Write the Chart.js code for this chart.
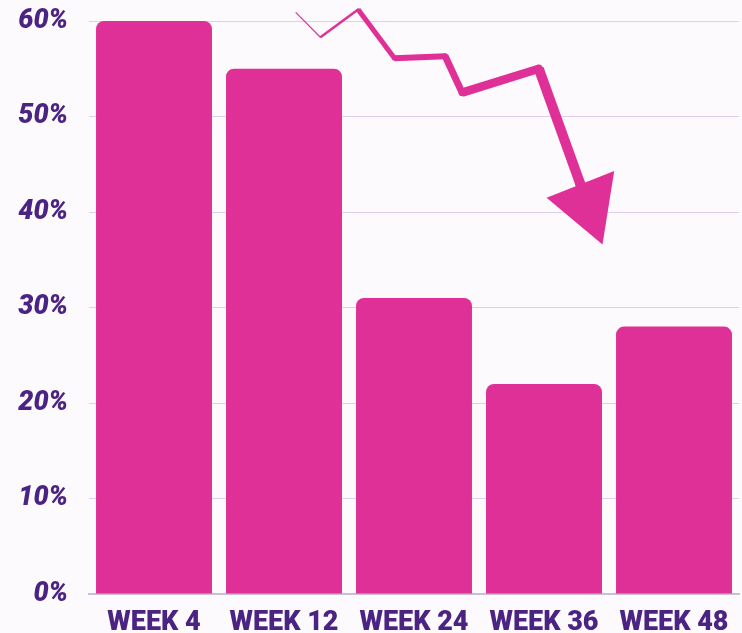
<!DOCTYPE html>
<html>
<head>
<meta charset="utf-8">
<script src="https://cdn.jsdelivr.net/npm/chart.js@4.4.0/dist/chart.umd.min.js"></script>
<style>
  html, body { margin: 0; padding: 0; background: #fcfafc; }
  #wrap { width: 742px; height: 633px; position: relative; }
</style>
</head>
<body>
<div id="wrap"><canvas id="retentionChart"></canvas></div>
<script>
// Chart data
const weeks = ['WEEK 4', 'WEEK 12', 'WEEK 24', 'WEEK 36', 'WEEK 48'];
const percents = [60, 55, 31, 22, 28];
const yTicks = [0, 10, 20, 30, 40, 50, 60];

// Decorative down arrow, in (category index, percent) units
const arrowPath = [[1.09, 60.9], [1.28, 58.3], [1.57, 61.2], [1.85, 56.1], [2.24, 56.3], [2.37, 52.5], [2.96, 55.0], [3.28, 42.9]];
const arrowWidths = [1.2, 2.4, 5, 6, 7, 8.5, 10];
const arrowHead = [[3.02, 41.5], [3.54, 44.3], [3.45, 36.6]];

const pink = '#df3097';
const purple = '#4b2383';
const labelFont = "Roboto, 'DejaVu Sans', sans-serif";

// Page background
const bgPlugin = {
  id: 'bg',
  beforeDraw(chart) {
    const c = chart.ctx;
    c.save();
    c.fillStyle = '#fcfafc';
    c.fillRect(0, 0, chart.width, chart.height);
    c.restore();
  }
};

// Zigzag arrow over the bars
const arrowPlugin = {
  id: 'arrow',
  afterDatasetsDraw(chart) {
    const c = chart.ctx;
    const xs = chart.scales.x, ys = chart.scales.y;
    const pt = p => [xs.getPixelForValue(p[0]), ys.getPixelForValue(p[1])];
    c.save();
    c.strokeStyle = pink;
    c.fillStyle = pink;
    c.lineJoin = 'miter';
    c.lineCap = 'butt';
    for (let i = 0; i < arrowPath.length - 1; i++) {
      const a = pt(arrowPath[i]), b = pt(arrowPath[i + 1]);
      c.lineWidth = arrowWidths[i];
      c.beginPath();
      c.moveTo(a[0], a[1]);
      c.lineTo(b[0], b[1]);
      c.stroke();
      // fill the joint
      c.beginPath();
      c.arc(b[0], b[1], arrowWidths[i] / 2, 0, Math.PI * 2);
      c.fill();
    }
    c.beginPath();
    arrowHead.forEach((p, i) => {
      const q = pt(p);
      if (i === 0) c.moveTo(q[0], q[1]); else c.lineTo(q[0], q[1]);
    });
    c.closePath();
    c.fill();
    c.restore();
  }
};

const ctx = document.getElementById('retentionChart');
new Chart(ctx, {
  type: 'bar',
  data: {
    labels: weeks,
    datasets: [{
      data: percents,
      backgroundColor: pink,
      borderRadius: 8,
      borderSkipped: 'start',
      categoryPercentage: 0.892,
      barPercentage: 1.0
    }]
  },
  options: {
    responsive: true,
    maintainAspectRatio: false,
    animation: false,
    layout: { padding: { top: 21, right: 3, bottom: 0, left: 0 } },
    scales: {
      y: {
        min: 0,
        max: 60,
        afterBuildTicks: axis => { axis.ticks = yTicks.map(v => ({ value: v })); },
        afterFit: axis => {
          axis.width = 89;
          axis.paddingTop = 0;
          axis.paddingBottom = 0;
        },
        grid: { color: '#ddd0ea', drawTicks: false },
        border: { display: false },
        ticks: {
          padding: 21,
          color: purple,
          font: { family: labelFont, size: 27, weight: '900', style: 'italic' },
          callback: v => v + '%'
        }
      },
      x: {
        grid: { display: false, drawTicks: false },
        border: { display: true, color: '#c9bfd9', width: 2 },
        afterFit: axis => {
          axis.height = 39;
          axis.paddingLeft = 0;
          axis.paddingRight = 0;
        },
        ticks: {
          padding: 13,
          maxRotation: 0,
          minRotation: 0,
          autoSkip: false,
          color: purple,
          font: { family: labelFont, size: 27, weight: '900' }
        }
      }
    },
    plugins: {
      legend: { display: false },
      tooltip: { enabled: false }
    }
  },
  plugins: [bgPlugin, arrowPlugin]
});
</script>
</body>
</html>
